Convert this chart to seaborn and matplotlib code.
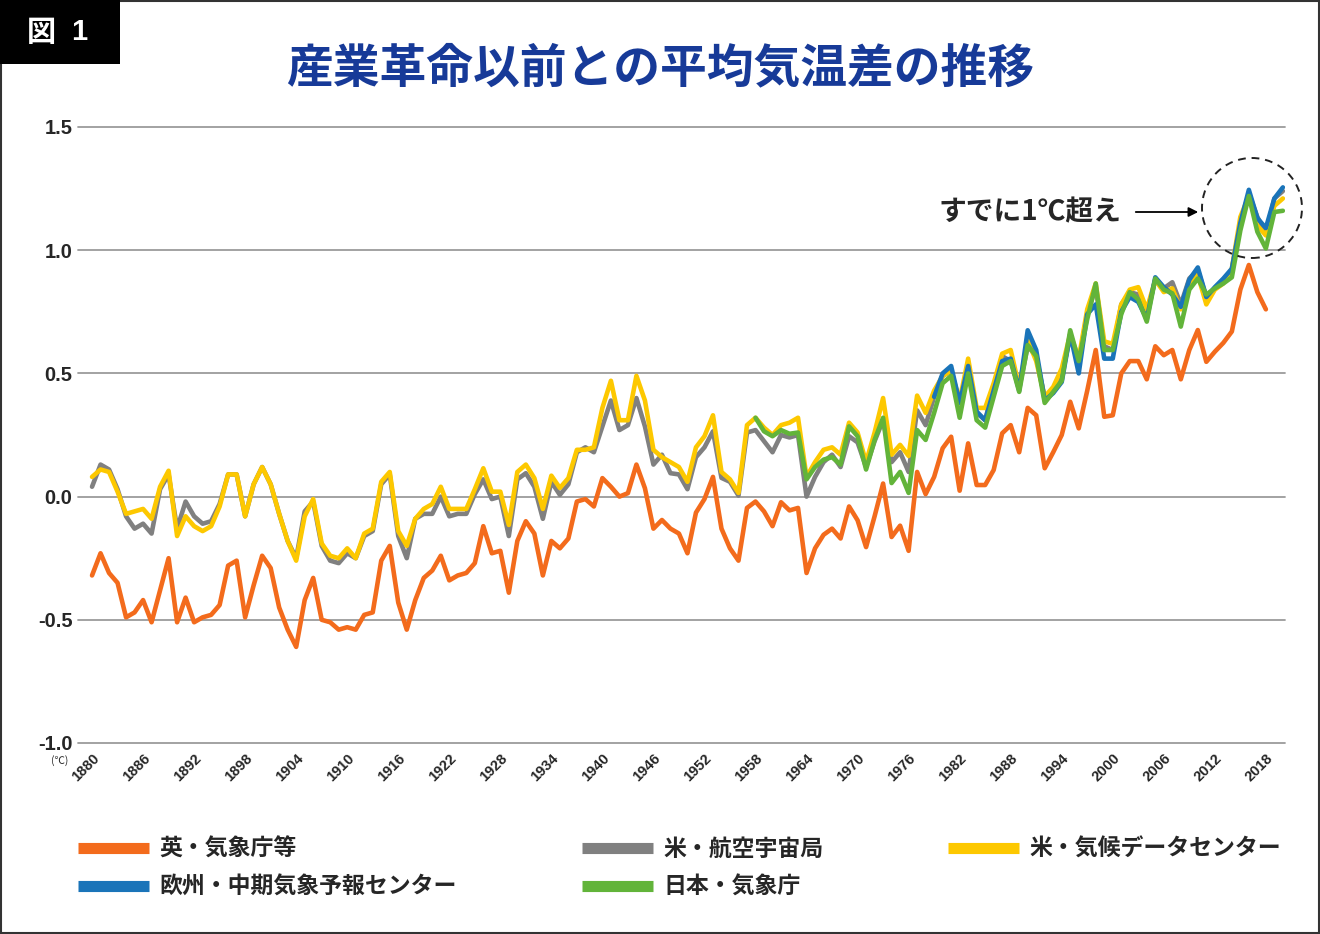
import matplotlib
matplotlib.use("Agg")
import matplotlib.pyplot as plt
from matplotlib.lines import Line2D
from matplotlib.patches import Rectangle, Ellipse
import pandas as pd
import seaborn as sns

# %% data (deg C vs pre-industrial)
uk_start, nasa_start, noaa_start, ecmwf_start, jma_start = 1880, 1880, 1880, 1979, 1958

uk_met = [
    -0.32, -0.23, -0.31, -0.35, -0.49, -0.47, -0.42, -0.51, -0.38, -0.25,
    -0.51, -0.41, -0.51, -0.49, -0.48, -0.44, -0.28, -0.26, -0.49, -0.36,
    -0.24, -0.29, -0.45, -0.54, -0.61, -0.42, -0.33, -0.50, -0.51, -0.54,
    -0.53, -0.54, -0.48, -0.47, -0.26, -0.20, -0.43, -0.54, -0.42, -0.33,
    -0.30, -0.24, -0.34, -0.32, -0.31, -0.27, -0.12, -0.23, -0.22, -0.39,
    -0.18, -0.10, -0.15, -0.32, -0.18, -0.21, -0.17, -0.02, -0.01, -0.04,
    0.075, 0.04, 0.00, 0.014, 0.13, 0.034, -0.13, -0.095, -0.13, -0.15,
    -0.23, -0.065, -0.01, 0.08, -0.13, -0.21, -0.26, -0.046, -0.02, -0.06,
    -0.12, -0.023, -0.056, -0.046, -0.31, -0.21, -0.155, -0.13, -0.17, -0.04,
    -0.096, -0.205, -0.08, 0.053, -0.164, -0.118, -0.22, 0.10, 0.01, 0.08,
    0.196, 0.243, 0.024, 0.216, 0.047, 0.047, 0.108, 0.257, 0.29, 0.18,
    0.36, 0.33, 0.115, 0.18, 0.25, 0.385, 0.277, 0.43, 0.595, 0.324,
    0.33, 0.50, 0.55, 0.55, 0.476, 0.61, 0.574, 0.595, 0.476, 0.595,
    0.676, 0.547, 0.588, 0.624, 0.67, 0.84, 0.94, 0.83, 0.76,
]

nasa = [
    0.04, 0.13, 0.11, 0.03, -0.08, -0.13, -0.11, -0.15, 0.03, 0.09,
    -0.13, -0.02, -0.08, -0.11, -0.10, -0.03, 0.09, 0.09, -0.08, 0.05,
    0.12, 0.05, -0.07, -0.18, -0.25, -0.06, -0.02, -0.20, -0.26, -0.27,
    -0.23, -0.25, -0.16, -0.14, 0.05, 0.09, -0.16, -0.25, -0.09, -0.07,
    -0.07, 0.00, -0.08, -0.07, -0.07, 0.01, 0.07, -0.01, 0.00, -0.16,
    0.07, 0.095, 0.04, -0.09, 0.06, 0.007, 0.05, 0.18, 0.20, 0.18,
    0.285, 0.39, 0.27, 0.29, 0.40, 0.285, 0.13, 0.17, 0.095, 0.09,
    0.03, 0.16, 0.20, 0.265, 0.076, 0.06, 0.004, 0.26, 0.27, 0.225,
    0.18, 0.25, 0.24, 0.25, 0.00, 0.08, 0.14, 0.17, 0.12, 0.245,
    0.22, 0.12, 0.225, 0.31, 0.14, 0.18, 0.10, 0.35, 0.29, 0.405,
    0.49, 0.51, 0.38, 0.51, 0.34, 0.31, 0.445, 0.57, 0.55, 0.44,
    0.61, 0.57, 0.40, 0.425, 0.49, 0.65, 0.54, 0.74, 0.85, 0.61,
    0.595, 0.78, 0.83, 0.82, 0.74, 0.88, 0.845, 0.87, 0.78, 0.885,
    0.92, 0.81, 0.845, 0.88, 0.92, 1.11, 1.23, 1.135, 1.07, 1.21,
    1.24,
]

noaa = [
    0.08, 0.11, 0.10, 0.02, -0.07, -0.06, -0.05, -0.09, 0.04, 0.105,
    -0.16, -0.08, -0.12, -0.14, -0.12, -0.04, 0.09, 0.09, -0.08, 0.05,
    0.12, 0.05, -0.07, -0.18, -0.26, -0.08, -0.01, -0.19, -0.24, -0.25,
    -0.21, -0.25, -0.15, -0.13, 0.06, 0.10, -0.14, -0.20, -0.09, -0.05,
    -0.03, 0.04, -0.05, -0.05, -0.05, 0.03, 0.115, 0.02, 0.02, -0.115,
    0.10, 0.13, 0.075, -0.05, 0.085, 0.035, 0.075, 0.19, 0.19, 0.20,
    0.36, 0.47, 0.31, 0.31, 0.49, 0.39, 0.19, 0.16, 0.14, 0.12,
    0.06, 0.20, 0.245, 0.33, 0.10, 0.07, 0.015, 0.29, 0.32, 0.28,
    0.25, 0.29, 0.30, 0.32, 0.08, 0.14, 0.19, 0.20, 0.17, 0.30,
    0.26, 0.14, 0.26, 0.40, 0.17, 0.21, 0.165, 0.41, 0.34, 0.43,
    0.49, 0.51, 0.39, 0.56, 0.36, 0.36, 0.46, 0.58, 0.595, 0.445,
    0.635, 0.55, 0.405, 0.445, 0.52, 0.66, 0.56, 0.76, 0.865, 0.63,
    0.62, 0.78, 0.84, 0.85, 0.76, 0.88, 0.83, 0.845, 0.76, 0.865,
    0.90, 0.78, 0.84, 0.865, 0.925, 1.135, 1.22, 1.10, 1.06, 1.18,
    1.21,
]

ecmwf = [
    0.405, 0.50, 0.53, 0.38, 0.53, 0.345, 0.31, 0.43, 0.55, 0.56,
    0.43, 0.675, 0.595, 0.39, 0.42, 0.465, 0.66, 0.50, 0.74, 0.78,
    0.56, 0.56, 0.75, 0.81, 0.79, 0.72, 0.89, 0.85, 0.82, 0.77,
    0.88, 0.93, 0.81, 0.85, 0.885, 0.925, 1.11, 1.245, 1.13, 1.09,
    1.21, 1.255,
]

jma = [
    0.32, 0.265, 0.245, 0.27, 0.255, 0.26, 0.07, 0.12, 0.15, 0.16,
    0.13, 0.285, 0.245, 0.11, 0.23, 0.32, 0.055, 0.10, 0.015, 0.27,
    0.23, 0.34, 0.46, 0.49, 0.32, 0.50, 0.31, 0.28, 0.405, 0.53,
    0.55, 0.425, 0.615, 0.57, 0.38, 0.425, 0.47, 0.675, 0.55, 0.72,
    0.865, 0.595, 0.595, 0.74, 0.83, 0.80, 0.71, 0.885, 0.84, 0.825,
    0.69, 0.84, 0.885, 0.82, 0.845, 0.865, 0.89, 1.08, 1.22, 1.075,
    1.007, 1.155, 1.16,
]

names = ["英・気象庁等", "米・航空宇宙局", "米・気候データセンター",
         "欧州・中期気象予報センター", "日本・気象庁"]
colors = ["#f36b1c", "#808080", "#fdc800", "#1a74b9", "#62b43a"]
tick_years = list(range(1880, 2019, 6))
y_ticks = [-1.0, -0.5, 0.0, 0.5, 1.0, 1.5]

rows = []
for name, start, vals in zip(names,
                             [uk_start, nasa_start, noaa_start, ecmwf_start, jma_start],
                             [uk_met, nasa, noaa, ecmwf, jma]):
    for k, v in enumerate(vals):
        rows.append({"year": start + k, "value": v, "series": name})
df = pd.DataFrame(rows)

# %% plot
sns.set_theme(style="white")
plt.rcParams["font.family"] = ["Noto Sans CJK JP", "DejaVu Sans"]

W, H = 1320, 934
fig = plt.figure(figsize=(W / 100, H / 100), dpi=100)
ax = fig.add_axes([78 / W, 1 - 743 / H, (1285 - 78) / W, (743 - 127) / H])

for yv in y_ticks:
    ax.axhline(yv, color="#9b9b9b", lw=1.3, zorder=0, clip_on=False)

sns.lineplot(data=df, x="year", y="value", hue="series", hue_order=names,
             palette=dict(zip(names, colors)), linewidth=3.3, estimator=None,
             legend=False, ax=ax)

ax.set_xlim(1878.35, 2020.25)
ax.set_ylim(-1.0, 1.5)
ax.set_xlabel("")
ax.set_ylabel("")
for s in ax.spines.values():
    s.set_visible(False)
ax.grid(False)

ax.set_yticks(y_ticks)
ax.set_yticklabels([f"{v:.1f}" for v in y_ticks], family="Liberation Sans",
                   fontweight="bold", fontsize=14.5)
ax.set_xticks(tick_years)
ax.set_xticklabels([str(y) for y in tick_years], family="Liberation Sans",
                   fontweight="bold", fontsize=10.5, rotation=45,
                   ha="right", va="top", rotation_mode="anchor")
ax.tick_params(axis="both", length=0)
ax.tick_params(axis="y", pad=4)
ax.tick_params(axis="x", pad=6)

fig.text(60 / W, 1 - 761 / H, "(℃)", fontsize=7.5, ha="center", va="center")

# title and figure label
fig.text(0.5, 1 - 68 / H, "産業革命以前との平均気温差の推移", fontsize=33.7,
         fontweight="bold", color="#173a98", ha="center", va="center")
fig.patches.append(Rectangle((0, 1 - 64 / H), 120 / W, 64 / H, transform=fig.transFigure,
                             facecolor="black", edgecolor="none", zorder=5))
fig.text(41 / W, 1 - 32 / H, "図", fontsize=21, fontweight="bold", color="white",
         ha="center", va="center", zorder=6)
fig.text(79 / W, 1 - 32 / H, "1", fontsize=21, fontweight="bold", color="white",
         family=["Liberation Sans"], ha="center", va="center", zorder=6)
fig.patches.append(Rectangle((0.001, 0.001), 0.998, 0.998, transform=fig.transFigure,
                             facecolor="none", edgecolor="#333333", lw=1.5))

# annotation
fig.text(1030 / W, 1 - 212 / H, "すでに1℃超え", fontsize=20, fontweight="bold",
         ha="center", va="center")
ax.annotate("", xy=(1201 / W, 1 - 212 / H), xytext=(1133 / W, 1 - 212 / H),
            xycoords="figure fraction", textcoords="figure fraction",
            arrowprops=dict(arrowstyle="-|>", color="black", lw=1.3, mutation_scale=14))
fig.patches.append(Ellipse((1252 / W, 1 - 208 / H), 100 / W, 100 / H,
                           transform=fig.transFigure, facecolor="none",
                           edgecolor="#222222", lw=1.4, linestyle=(0, (4, 3))))

# legend (column-major: orange, blue | gray, green | yellow)
order = [0, 3, 1, 4, 2]
handles = [Line2D([], [], color=colors[i], lw=8, solid_capstyle="butt") for i in order]
fig.legend(handles, [names[i] for i in order], loc="upper left",
           bbox_to_anchor=(78 / W, 1 - 838 / H), ncol=3, frameon=False,
           borderpad=0, borderaxespad=0, handlelength=3.1, handletextpad=0.45,
           columnspacing=5.45, labelspacing=0.66,
           prop={"family": ["Noto Sans CJK JP"], "weight": "bold", "size": 16.5})

fig.savefig("out.png", dpi=100)
